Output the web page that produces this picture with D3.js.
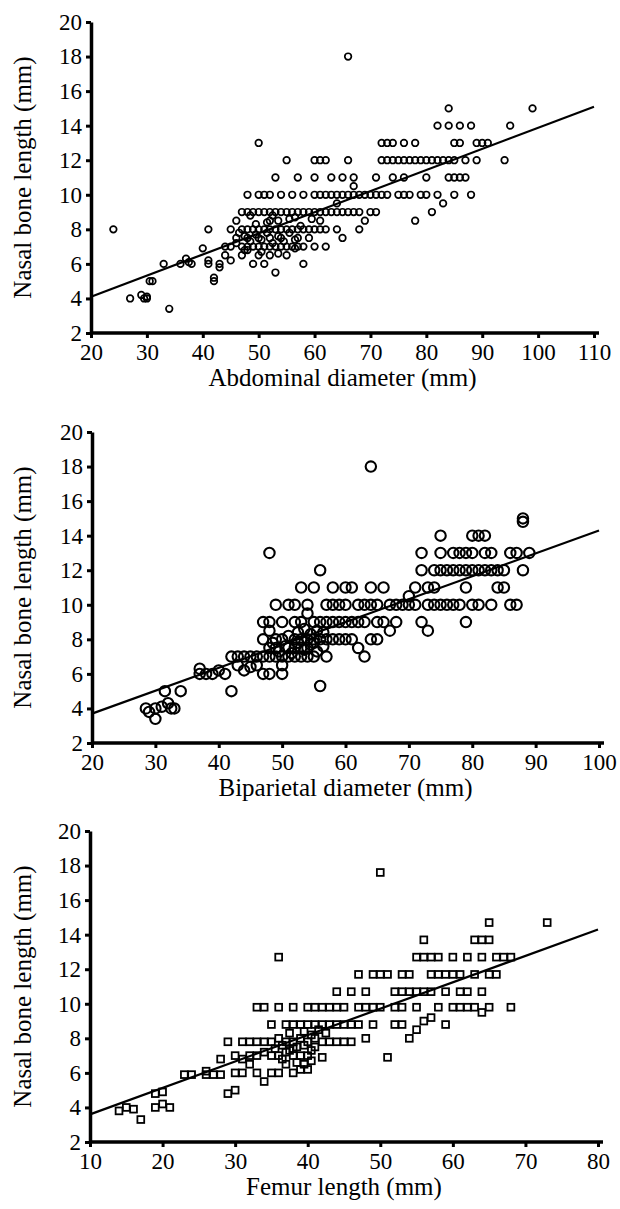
<!DOCTYPE html>
<html>
<head>
<meta charset="utf-8">
<script src="https://cdn.jsdelivr.net/npm/d3@7"></script>
<style>
  body { margin: 0; background: #fff; }
  svg { display: block; }
  text { font-family: "Liberation Serif", "Times New Roman", serif; fill: #000; }
</style>
</head>
<body>
<svg id="chart" width="620" height="1209"></svg>
<script>
// ---- data ----
let yTicks = [2, 4, 6, 8, 10, 12, 14, 16, 18, 20];
let yTitle = "Nasal bone length (mm)";

// panel 1: abdominal diameter
let adTicks = [20, 30, 40, 50, 60, 70, 80, 90, 100, 110];
let adFit = [[20, 4.1], [110, 15.1]];
let adPoints = [
  [24,8],[27,4],[29,4.2],[29.5,4],[30,4],[30.5,5],[31,5],[30,4.1],
  [33,6],[34,3.4],[36,6],[37,6.3],[38,6],[37.5,6.1],
  [40,6.9],[41,8],[41,6.2],[41,6],[42,5.2],[42,5],[43,6],[43,5.8],[44,7],[44,6.5],
  [45,8],[45,7],[45,6.2],[46,8.5],[46,7.5],[46,7.2],[47,9],[47,8],[47,7],[47,6.5],
  [48,10],[48,9],[48,8],[48,7.5],[48,7],[48,6.8],[49,9],[49,8],[49,7],[49,6],
  [50,13],[50,10],[50,9],[50,8],[50,7.5],[50,7],[50,6.5],[51,10],[51,9],[51,8],[51,7],[51,6],
  [52,10],[52,9],[52,8.5],[52,8],[52,7.5],[52,7],[52,6.5],[53,11],[53,9],[53,8],[53,7],[53,5.5],
  [54,10],[54,9],[54,8],[54,7.5],[54,7],[55,12],[55,9],[55,8],[55,7],[55,6.5],
  [56,10],[56,9],[56,8],[56,7],[57,11],[57,9],[57,8],[57,7.5],[57,7],
  [58,10],[58,9],[58,8],[58,7],[58,6],[59,9],[59,8],[59,7.5],
  [46.5,7.8],[47.5,7.6],[48.5,7.3],[49.5,7.7],[50.5,7.4],[51.5,7.8],[52.5,7.2],[53.5,7.6],
  [54.5,7.3],[55.5,7.8],[56.5,7.4],[57.5,8.2],[49.5,8.3],[51.5,8.4],[53.5,8.5],[55.5,8.6],
  [47.5,6.8],[50.5,6.7],[53.5,6.6],[56.5,6.9],[48.5,8.8],[52.5,8.8],[56.5,8.7],[59.5,8.6],
  [60,12],[60,11],[60,10],[60,9],[60,8],[60,7],[61,12],[61,10],[61,9],[61,8.5],[61,8],
  [62,12],[62,10],[62,9],[62,8],[62,7],[63,11],[63,10],[63,9],[64,10],[64,9.5],[64,9],[64,8],
  [65,11],[65,10],[65,9],[65,7.5],[66,18],[66,12],[66,10],[66,9],[67,11],[67,10.5],[67,10],[67,9],
  [68,10],[68,9],[68,8],[69,10],[69,8.5],[70,10],[70,9],[71,11],[71,10],[71,9],
  [72,13],[72,12],[72,10],[73,13],[73,12],[73,10],[74,13],[74,12],[74,11],[75,12],[75,10],
  [76,13],[76,12],[76,11],[76,10],[77,12],[77,10],[78,13],[78,12],[78,8.5],[79,12],[79,10],
  [80,12],[80,11],[80,10],[81,12],[81,9],[82,12],[82,10],[82,14],[83,12],[83,9.5],
  [84,15],[84,14],[84,12],[84,11],[85,13],[85,12],[85,11],[85,10],[86,14],[86,13],[86,11],
  [87,12],[87,11],[88,14],[88,10],[89,13],[89,12],[90,13],[91,13],[94,12],[95,14],[99,15]
];

// panel 2: biparietal diameter
let bpdTicks = [20, 30, 40, 50, 60, 70, 80, 90, 100];
let bpdFit = [[20, 3.7], [100, 14.3]];
let bpdPoints = [
  [28.5,4],[29,3.8],[30,3.4],[30,4],[31,4.1],[31.5,5],[32,4.3],[32.5,4],[33,4],[34,5],
  [37,6.3],[37,6],[38,6],[39,6],[40,6.2],[41,6],[42,5],[42,7],[43,7],[43,6.5],[44,7],[44,6.2],
  [45,7],[45,6.4],[46,7],[46,6.5],[47,9],[47,8],[47,7],[47,6],[48,13],[48,9],[48,8.5],[48,7.5],[48,7],[48,6],
  [49,10],[49,8],[49,7.5],[49,7],[50,9],[50,8],[50,7],[50,6.5],[50,6],[51,10],[51,8.2],[51,7.5],[51,7],
  [52,10],[52,9],[52,8],[52,7.5],[52,7],[53,11],[53,9],[53,8],[53,7],[54,10],[54,9.5],[54,8],[54,7.5],[54,7],
  [55,11],[55,9],[55,8],[55,7],[56,12],[56,9],[56,8],[56,5.3],[57,10],[57,9],[57,8],[57,7],
  [50.5,7.6],[51.5,7.2],[52.5,7.8],[53.5,7.4],[54.5,7.7],[55.5,7.3],[56.5,7.6],[52.5,8.4],
  [53.5,8.6],[54.5,8.3],[55.5,8.5],[56.5,8.4],[49.5,7.3],[48.5,7.8],[53,7.5],[55,7.8],
  [58,11],[58,10],[58,9],[58,8],[59,10],[59,9],[59,8],[60,11],[60,10],[60,9],[60,8],
  [61,11],[61,9],[61,8],[62,10],[62,9],[62,7.5],[63,10],[63,9],[63,7],[64,18],[64,11],[64,10],[64,8],
  [65,10],[65,9],[65,8],[66,11],[66,9],[67,10],[67,8.5],[68,10],[68,9],[69,10],[70,10],[70,10.5],
  [71,11],[71,10],[72,13],[72,12],[72,9],[73,11],[73,10],[73,8.5],[74,12],[74,11],[74,10],
  [75,14],[75,13],[75,12],[75,10],[76,12],[76,10],[77,13],[77,12],[77,10],[78,13],[78,12],[78,10],
  [79,13],[79,12],[79,11],[79,9],[80,14],[80,13],[80,12],[80,10],[81,14],[81,12],[81,10],
  [82,14],[82,13],[82,12],[83,13],[83,12],[83,10],[84,12],[84,11],[85,12],[85,11],
  [86,13],[86,10],[87,13],[87,10],[88,15],[88,14.8],[88,12],[89,13]
];

// panel 3: femur length
let flTicks = [10, 20, 30, 40, 50, 60, 70, 80];
let flFit = [[10, 3.6], [80, 14.3]];
let flPoints = [
  [14,3.8],[15,4],[16,3.9],[17,3.3],[19,4.8],[19,4],[20,4.9],[20,4.2],[21,4],
  [23,5.9],[24,5.9],[26,6.1],[26,5.9],[27,5.9],[28,5.9],[28,6.8],[29,7.8],[29,4.8],
  [30,7],[30,6],[30,5],[31,7.8],[31,6.8],[31,6],[32,7.8],[32,7],[32,6.5],
  [33,9.8],[33,7.8],[33,7],[33,6],[34,9.8],[34,7.8],[34,7.2],[34,5.5],[35,8.8],[35,7.8],[35,7],[35,6],
  [36,12.7],[36,9.8],[36,8],[36,7],[36,6],[37,8.8],[37,7.8],[37,7.2],[37,6.5],
  [38,9.8],[38,8.8],[38,7.8],[38,7],[38,6],[39,8.8],[39,8],[39,7],[39,6.2],
  [40,9.8],[40,8.8],[40,7.8],[40,7],[40,6.2],[41,9.8],[41,8.8],[41,8],[41,7.5],
  [35.5,7.4],[36.5,7.6],[37.5,7.3],[38.5,7.5],[39.5,7.6],[40.5,7.3],[36.5,6.8],[38.5,6.6],
  [39.5,8.4],[40.5,8.2],[37.5,8.3],[41.5,8.5],[42.5,8.3],[39.5,6.5],[40.5,6.7],[38,7.4],
  [42,9.8],[42,8.8],[42,7.8],[42,6.9],[43,9.8],[43,8.8],[43,7.8],[44,10.7],[44,9.8],[44,8.8],[44,7.8],
  [45,9.8],[45,8.8],[45,7.8],[46,10.7],[46,8.8],[46,7.8],[47,11.7],[47,9.8],[47,8.8],
  [48,10.7],[48,9.8],[48,8],[49,11.7],[49,9.8],[49,8.8],[50,17.6],[50,11.7],[50,9.8],[51,11.7],[51,6.9],
  [52,10.7],[52,9.8],[52,8.8],[53,11.7],[53,10.7],[53,9.8],[53,8.8],[54,11.7],[54,10.7],[54,8],
  [55,12.7],[55,10.7],[55,9.8],[55,8.5],[56,13.7],[56,12.7],[56,10.7],[56,9],
  [57,12.7],[57,11.7],[57,10.7],[57,9.2],[58,12.7],[58,11.7],[58,9.8],[59,11.7],[59,10.7],[59,8.8],
  [60,12.7],[60,11.7],[60,9.8],[61,11.7],[61,10.7],[61,9.8],[62,12.7],[62,10.7],[62,9.8],
  [63,13.7],[63,11.7],[63,9.8],[64,13.7],[64,12.7],[64,10.7],[64,9.5],
  [65,14.7],[65,13.7],[65,11.7],[65,9.8],[66,12.7],[66,11.7],[67,12.7],[68,12.7],[68,9.8],[73,14.7]
];

//--------------------------------------
let svg = d3.select("#chart");

let panels = [
  {top: 22,  x0: 91, x1: 594, ticks: adTicks,  fit: adFit,  pts: adPoints,  title: "Abdominal diameter (mm)", mark: "circle", r: 3.3, sw: 1.7},
  {top: 432, x0: 92, x1: 599, ticks: bpdTicks, fit: bpdFit, pts: bpdPoints, title: "Biparietal diameter (mm)", mark: "circle", r: 5.2, sw: 2.1},
  {top: 831, x0: 90, x1: 598, ticks: flTicks,  fit: flFit,  pts: flPoints,  title: "Femur length (mm)", mark: "square", r: 3.4, sw: 1.8}
];
let plotH = 311;

panels.forEach(function(p) {
  let g = svg.append("g");
  let x = d3.scaleLinear().domain([p.ticks[0], p.ticks[p.ticks.length - 1]]).range([p.x0, p.x1]);
  let y = d3.scaleLinear().domain([2, 20]).range([p.top + plotH, p.top]);

  // points
  if (p.mark == "circle") {
    g.append("g").selectAll("circle")
      .data(p.pts)
      .enter().append("circle")
        .attr("cx", function(d) { return x(d[0]); })
        .attr("cy", function(d) { return y(d[1]); })
        .attr("r", p.r)
        .attr("fill", "none")
        .style("stroke", "#000")
        .style("stroke-width", p.sw);
  } else {
    g.append("g").selectAll("rect")
      .data(p.pts)
      .enter().append("rect")
        .attr("x", function(d) { return x(d[0]) - p.r; })
        .attr("y", function(d) { return y(d[1]) - p.r; })
        .attr("width", 2 * p.r)
        .attr("height", 2 * p.r)
        .attr("fill", "none")
        .style("stroke", "#000")
        .style("stroke-width", p.sw);
  }

  // regression line
  g.append("path")
    .datum(p.fit)
    .attr("d", d3.line().x(function(d) { return x(d[0]); }).y(function(d) { return y(d[1]); }))
    .attr("fill", "none")
    .style("stroke", "#000")
    .style("stroke-width", 2.2);

  // axes
  let xAxis = g.append("g")
    .attr("transform", "translate(0," + (p.top + plotH) + ")")
    .call(d3.axisBottom(x).tickValues(p.ticks).tickSize(5).tickPadding(6).tickSizeOuter(0));
  xAxis.select(".domain").attr("d", "M" + p.x0 + ",0H" + (p.x1 + 5));

  let yAxis = g.append("g")
    .attr("transform", "translate(" + p.x0 + ",0)")
    .call(d3.axisLeft(y).tickValues(yTicks).tickSize(5).tickPadding(4).tickSizeOuter(0));

  [xAxis, yAxis].forEach(function(a) {
    a.attr("font-family", null);
    a.select(".domain").style("stroke", "#000").style("stroke-width", 3.5);
    a.selectAll(".tick line").style("stroke", "#000").style("stroke-width", 3);
    a.selectAll(".tick text").style("font-size", "23px").style("font-family", "'Liberation Serif', 'Times New Roman', serif");
  });

  // titles
  g.append("text")
    .attr("x", (p.x0 + p.x1) / 2)
    .attr("y", p.top + plotH + 53)
    .attr("text-anchor", "middle")
    .style("font-size", "25px")
    .text(p.title);

  g.append("text")
    .attr("transform", "translate(31," + (p.top + plotH / 2) + ") rotate(-90)")
    .attr("text-anchor", "middle")
    .style("font-size", "25px")
    .text(yTitle);
});
</script>
</body>
</html>
